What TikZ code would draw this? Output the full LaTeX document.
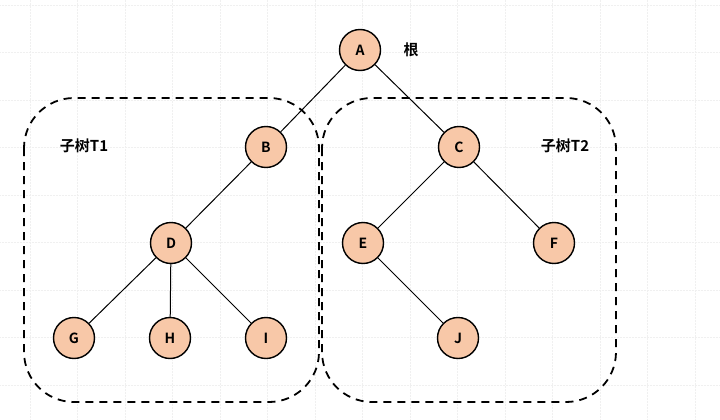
\documentclass[tikz,border=0pt]{standalone}
\usepackage{fontspec}
\setmainfont{Noto Sans CJK SC}[BoldFont={* Bold}]
\begin{document}
\begin{tikzpicture}[x=1pt,y=-1pt,
  tn/.style={circle,draw=black,line width=1.4pt,fill=nodefill,minimum size=41pt,inner sep=0pt,font=\bfseries\fontsize{14}{14}\selectfont},
  edge/.style={line width=1pt},
  subbox/.style={draw=black,line width=1.8pt,dash pattern=on 8pt off 6pt,rounded corners=50pt},
  lbl/.style={font=\bfseries\fontsize{15}{15}\selectfont}]
\definecolor{nodefill}{HTML}{F8C8A8}
\useasboundingbox[fill=white] (0,0) rectangle (720,420);
\foreach \gx in {30,77.5,...,720} \draw[black!6,line width=0.5pt,densely dotted] (\gx,0) -- (\gx,420);
\foreach \gy in {5,52.5,...,420} \draw[black!6,line width=0.5pt,densely dotted] (0,\gy) -- (720,\gy);
\draw[subbox] (24,98) rectangle (319,402);
\draw[subbox] (322,98) rectangle (616,402);
\node[tn] (A) at (360,50) {A};
\node[tn] (B) at (266,147) {B};
\node[tn] (C) at (459,147) {C};
\node[tn] (D) at (171,243) {D};
\node[tn] (E) at (363,243) {E};
\node[tn] (F) at (554,243) {F};
\node[tn] (G) at (74,338) {G};
\node[tn] (H) at (170,338) {H};
\node[tn] (I) at (266,338) {I};
\node[tn] (J) at (458,338) {J};
\node[lbl] (root) at (411,50) {根};
\node[lbl] (t1) at (84,146) {子树T1};
\node[lbl] (t2) at (565,146) {子树T2};
\draw[edge] (A) -- (B);
\draw[edge] (A) -- (C);
\draw[edge] (B) -- (D);
\draw[edge] (C) -- (E);
\draw[edge] (C) -- (F);
\draw[edge] (D) -- (G);
\draw[edge] (D) -- (H);
\draw[edge] (D) -- (I);
\draw[edge] (E) -- (J);
\end{tikzpicture}
\end{document}
